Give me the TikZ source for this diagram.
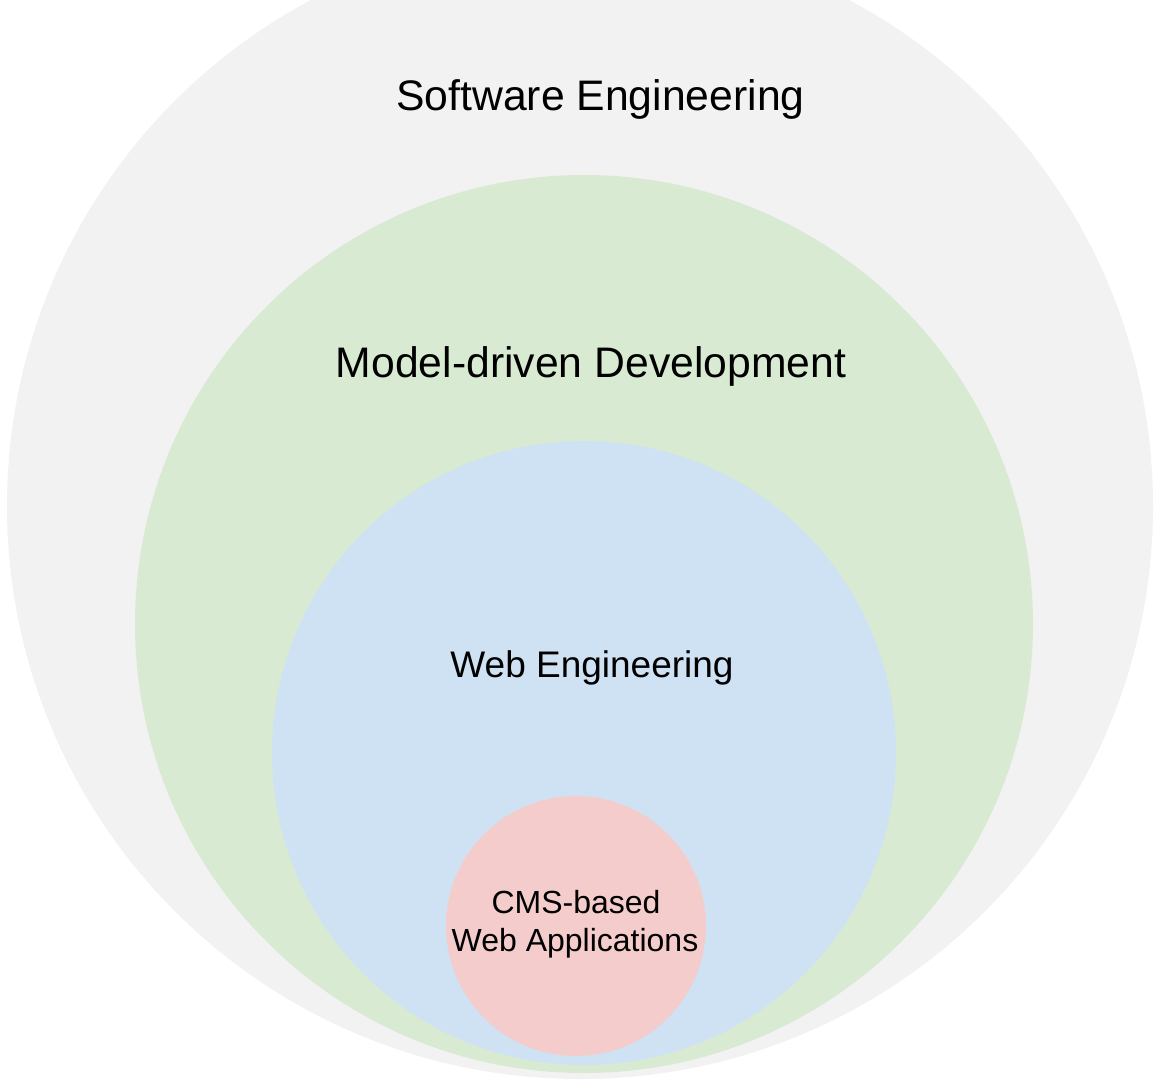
\documentclass[tikz,border=0pt]{standalone}
\usepackage{fontspec}
\setmainfont{Liberation Sans}
\definecolor{cgrey}{HTML}{F2F2F2}
\definecolor{cgreen}{HTML}{D9EAD3}
\definecolor{cblue}{HTML}{CFE2F3}
\definecolor{cpink}{HTML}{F4CCCC}
\tikzset{
  disc/.style={circle, draw=none, inner sep=0pt, outer sep=0pt},
  lbl/.style={anchor=base, inner sep=0pt, text=black, align=center},
}
\begin{document}
\begin{tikzpicture}[x=1pt,y=-1pt]
\useasboundingbox (0,0) rectangle (1154,1080);
\clip (0,0) rectangle (1154,1080);
\node[disc, fill=cgrey, minimum size=1146pt] (se) at (580,506) {};
\node[disc, fill=cgreen, minimum size=898pt] (mdd) at (584,624) {};
\node[disc, fill=cblue, minimum size=624pt] (we) at (584,753) {};
\node[disc, fill=cpink, minimum size=260pt] (cms) at (576,926) {};
\node[lbl, font=\fontsize{42.7}{50}\selectfont] (tse) at (600.5,110) {Software Engineering};
\node[lbl, font=\fontsize{42.7}{50}\selectfont] (tmdd) at (591,377) {Model-driven Development};
\node[lbl, font=\fontsize{37}{43}\selectfont] (twe) at (592,677) {Web Engineering};
\node[lbl, font=\fontsize{32}{38}\selectfont] (tcms1) at (576,913) {CMS-based};
\node[lbl, font=\fontsize{32}{38}\selectfont] (tcms2) at (575,951) {Web Applications};
\end{tikzpicture}
\end{document}
